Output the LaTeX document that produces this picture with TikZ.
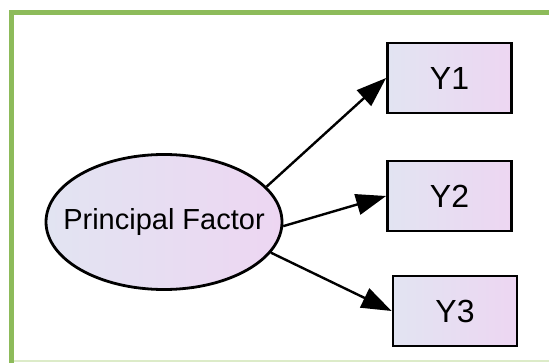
\documentclass[tikz,border=0pt]{standalone}
\usepackage{fontspec}
\setmainfont{Liberation Sans}
\usetikzlibrary{arrows.meta,shapes.geometric}
\definecolor{framegreen}{HTML}{8DBB5A}
\definecolor{palegreen}{HTML}{DCEBC8}
\definecolor{fillblue}{HTML}{E2E4F2}
\definecolor{fillpink}{HTML}{EDD6F2}
\tikzset{
	factor/.style={draw, ellipse, line width=2.8pt, left color=fillblue, right color=fillpink,
		minimum width=236pt, minimum height=135pt, inner xsep=-30pt, inner ysep=0pt,
		font=\fontsize{29}{32}\selectfont},
	observed/.style={draw, rectangle, line width=2.8pt, left color=fillblue, right color=fillpink,
		minimum width=124pt, minimum height=70pt, inner sep=0pt, font=\fontsize{32}{36}\selectfont},
	path/.style={line width=2.4pt, -{Triangle[length=30pt,width=21pt]}}
}
\begin{document}
\begin{tikzpicture}[x=1pt,y=-1pt]
			\useasboundingbox (0,0) rectangle (549,363);
			\fill[white] (0,0) rectangle (549,363);
			\draw[framegreen, line width=5pt] (11,363) -- (11,12.5) -- (549,12.5);
			\draw[palegreen, line width=2pt] (14,361) -- (549,361);
			\node	(pf) at (164,222) [factor] {Principal Factor};
			\node	(y1) at (449.5,78) [observed] {Y1};
			\node	(y2) at (449.5,196) [observed] {Y2};
			\node	(y3) at (455,311) [observed] {Y3};
			\draw 
			(pf.19) edge[path] (y1.west)
			(pf.-2) edge[path] (y2.west)
			(pf.-16) edge[path] (y3.west)
			;
		\end{tikzpicture}
\end{document}
